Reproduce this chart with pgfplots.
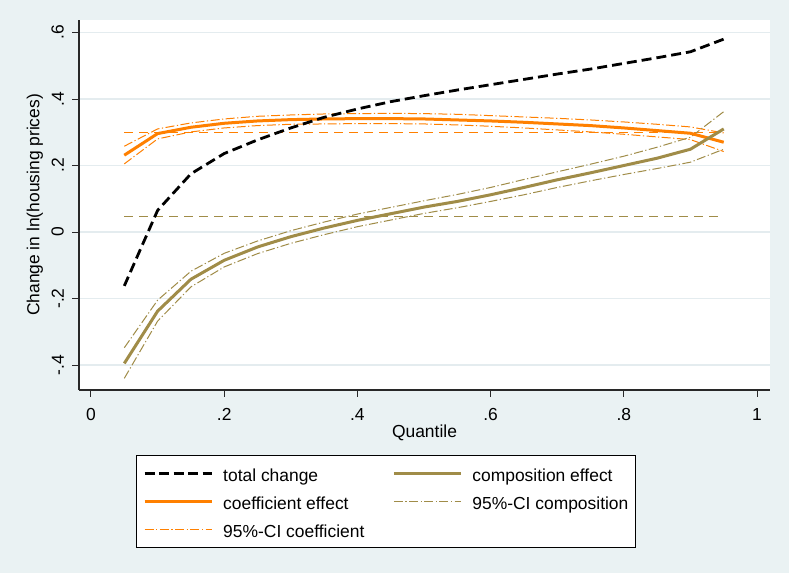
\documentclass[border=0pt]{standalone}
\usepackage{pgfplots}
\pgfplotsset{compat=1.18}
\usepackage{pgfplotstable}
\usepackage{fontspec}
\setmainfont{Liberation Sans}

\definecolor{bgc}{RGB}{234,242,243}
\definecolor{gridc}{RGB}{228,236,239}
\definecolor{orng}{RGB}{255,128,0}
\definecolor{olive}{RGB}{160,140,72}
\definecolor{axc}{RGB}{40,40,40}

\pgfplotstableread{
q    total  coef   coeflo coefhi comp    complo  comphi
0.05 -0.162 0.231  0.205  0.258  -0.395  -0.440  -0.348
0.10  0.065 0.296  0.280  0.310  -0.238  -0.268  -0.205
0.15  0.175 0.315  0.301  0.328  -0.142  -0.165  -0.118
0.20  0.236 0.327  0.313  0.340  -0.085  -0.105  -0.064
0.25  0.277 0.334  0.320  0.348  -0.045  -0.065  -0.027
0.30  0.313 0.338  0.324  0.352  -0.014  -0.034   0.004
0.35  0.345 0.340  0.325  0.355   0.012  -0.008   0.030
0.40  0.370 0.341  0.326  0.356   0.035   0.016   0.054
0.45  0.392 0.341  0.326  0.357   0.055   0.036   0.074
0.50  0.410 0.340  0.325  0.356   0.075   0.056   0.094
0.55  0.427 0.337  0.322  0.354   0.092   0.073   0.113
0.60  0.443 0.334  0.318  0.350   0.112   0.092   0.134
0.65  0.459 0.330  0.313  0.346   0.134   0.112   0.158
0.70  0.475 0.325  0.307  0.342   0.157   0.134   0.181
0.75  0.490 0.320  0.301  0.337   0.178   0.154   0.204
0.80  0.507 0.313  0.294  0.331   0.200   0.173   0.228
0.85  0.524 0.305  0.286  0.324   0.222   0.191   0.255
0.90  0.542 0.297  0.278  0.316   0.249   0.210   0.285
0.95  0.580 0.270  0.242  0.298   0.310   0.249   0.362
}\datatab

\pgfplotstableread{
q    coefmean compmean
0.05 0.299    0.046
0.95 0.299    0.046
}\meantab

\begin{document}
\begin{tikzpicture}[x=1bp,y=1bp]
\fill[bgc] (0,0) rectangle (789,573);
\begin{axis}[
  at={(79bp,183bp)}, anchor=south west,
  scale only axis, width=691bp, height=370bp,
  xmin=-0.018, xmax=1.0195, ymin=-0.475, ymax=0.6376,
  axis x line*=bottom, axis y line*=left,
  x axis line style={-, draw=axc, line width=1.2bp},
  y axis line style={-, draw=axc, line width=1.2bp},
  axis background/.style={fill=white},
  xtick={0,0.2,0.4,0.6,0.8,1},
  xticklabels={0,.2,.4,.6,.8,1},
  ytick={-0.4,-0.2,0,0.2,0.4,0.6},
  yticklabels={-.4,-.2,0,.2,.4,.6},
  tick align=outside, major tick length=7bp,
  tick style={draw=axc, line width=1bp},
  ymajorgrids, major grid style={draw=gridc, line width=1.2bp},
  ticklabel style={font=\fontsize{17.5}{20}\selectfont},
  xticklabel style={anchor=north, inner sep=0pt},
  xticklabel shift=11bp,
  yticklabel style={rotate=90, anchor=south, inner sep=0pt},
  yticklabel shift=8bp,
  xlabel={Quantile},
  ylabel={Change in ln(housing prices)},
  label style={font=\fontsize{17.5}{20}\selectfont},
  xlabel style={at={(axis description cs:0.5,-0.1162)}, anchor=center},
  ylabel style={at={(axis description cs:-0.0637,0.5)}, anchor=center},
  legend columns=2,
  legend cell align=left,
  legend image code/.code={\draw[#1] (0bp,0bp) -- (67bp,0bp);},
  legend style={at={(axis description cs:0.444,-0.1757)}, anchor=north,
    draw=black, line width=1bp, fill=white,
    font=\fontsize{17.5}{20}\selectfont,
    inner xsep=7bp, inner ysep=10bp,
    nodes={inner sep=0pt, text height=15.5bp, text depth=0.5bp},
    row sep=12bp,
    /tikz/every odd column/.append style={column sep=10bp},
    /tikz/every even column/.append style={column sep=28bp}},
]
% reference lines
\addplot[forget plot, orng, line width=1.3bp, dash pattern=on 9bp off 6bp] table[x=q,y=coefmean]{\meantab};
\addplot[forget plot, olive, line width=1.3bp, dash pattern=on 9bp off 6bp] table[x=q,y=compmean]{\meantab};
% CIs
\addplot[forget plot, orng, line width=1bp, dash pattern=on 9bp off 2.5bp on 1.2bp off 2.5bp] table[x=q,y=coeflo]{\datatab};
\addplot[forget plot, orng, line width=1bp, dash pattern=on 9bp off 2.5bp on 1.2bp off 2.5bp] table[x=q,y=coefhi]{\datatab};
\addplot[forget plot, olive, line width=1bp, dash pattern=on 9bp off 2.5bp on 1.2bp off 2.5bp] table[x=q,y=complo]{\datatab};
\addplot[forget plot, olive, line width=1bp, dash pattern=on 9bp off 2.5bp on 1.2bp off 2.5bp] table[x=q,y=comphi]{\datatab};
% main lines
\addplot[forget plot, orng, line width=3bp, line join=round] table[x=q,y=coef]{\datatab};
\addplot[forget plot, olive, line width=3bp, line join=round] table[x=q,y=comp]{\datatab};
\addplot[forget plot, black, line width=2.8bp, dash pattern=on 10bp off 5bp] table[x=q,y=total]{\datatab};
% legend
\addlegendimage{black, line width=2.8bp, dash pattern=on 10bp off 4.5bp}
\addlegendentry{total change}
\addlegendimage{olive, line width=3bp}
\addlegendentry{composition effect}
\addlegendimage{orng, line width=3bp}
\addlegendentry{coefficient effect}
\addlegendimage{olive, line width=1bp, dash pattern=on 9bp off 2.5bp on 1.2bp off 2.5bp}
\addlegendentry{95\%-CI composition}
\addlegendimage{orng, line width=1bp, dash pattern=on 9bp off 2.5bp on 1.2bp off 2.5bp}
\addlegendentry{95\%-CI coefficient}
\end{axis}
\end{tikzpicture}
\end{document}
